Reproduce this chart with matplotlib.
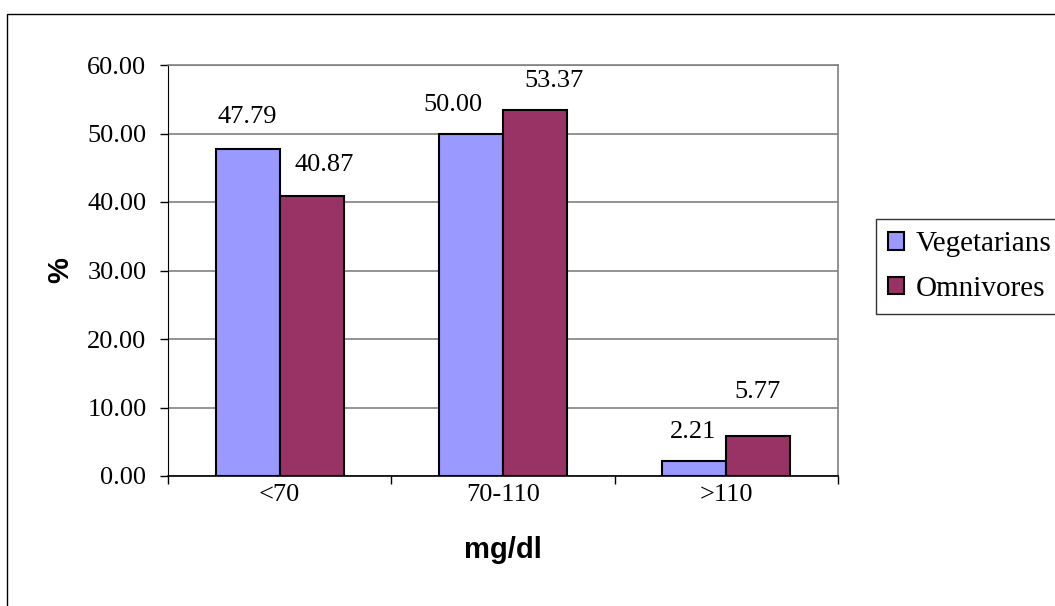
import numpy as np
import matplotlib
matplotlib.use("Agg")
import matplotlib.pyplot as plt
from matplotlib.patches import Rectangle

# veriler
kategoriler = ["<70", "70-110", ">110"]
vegetarians = [47.79, 50.00, 2.21]
omnivores = [40.87, 53.37, 5.77]
seri_adlari = ["Vegetarians", "Omnivores"]
renkler = ["#9999FF", "#993366"]

# etiket kaydırmaları (nokta), Excel çakışmayı önlemek için kaydırmış
veg_ofs = [(0, 23), (-13, 20.5), (-1, 21)]
omn_ofs = [(9, 22.3), (13.7, 21), (-0.7, 31.7)]

serif = ["Liberation Serif", "DejaVu Serif"]
sans = ["Liberation Sans", "DejaVu Sans"]
fs = 19

fig = plt.figure(figsize=(10.55, 6.06), dpi=100)
ax = fig.add_axes([168 / 1055, 1 - 476 / 606, (838 - 168) / 1055, (476 - 65) / 606])

# dış çerçeve
fig.patches.append(Rectangle((7 / 1055, -0.1), 1.2, 1 - 14 / 606 + 0.1,
                             transform=fig.transFigure, fill=False,
                             edgecolor="black", linewidth=1.0))

x = np.arange(len(kategoriler))
w = 0.287
b1 = ax.bar(x - w / 2, vegetarians, w, color=renkler[0], edgecolor="black",
            linewidth=1.5, label=seri_adlari[0], zorder=3)
b2 = ax.bar(x + w / 2, omnivores, w, color=renkler[1], edgecolor="black",
            linewidth=1.5, label=seri_adlari[1], zorder=3)

for bars, vals, ofs in [(b1, vegetarians, veg_ofs), (b2, omnivores, omn_ofs)]:
    for rect, v, o in zip(bars, vals, ofs):
        ax.annotate(f"{v:.2f}", (rect.get_x() + rect.get_width() / 2, v),
                    xytext=o, textcoords="offset points",
                    ha="center", va="center", fontsize=fs, family=serif)

ax.set_xlim(-0.5, 2.5)
ax.set_ylim(0, 60)
ax.set_yticks(np.arange(0, 61, 10))
ax.set_yticklabels([f"{t:.2f}" for t in np.arange(0, 61, 10)], family=serif, fontsize=fs)
ax.set_xticks(x)
ax.set_xticklabels(kategoriler, family=serif, fontsize=fs)
ax.set_xticks([-0.5, 0.5, 1.5, 2.5], minor=True)
ax.tick_params(axis="x", which="major", length=0, pad=6)
ax.tick_params(axis="x", which="minor", length=6, direction="out", width=1)
ax.tick_params(axis="y", length=5.5, direction="out", width=1, pad=10)

ax.yaxis.grid(True, color="#808080", linewidth=1.2, zorder=0)
ax.set_axisbelow(True)
for s in ["top", "right"]:
    ax.spines[s].set_color("#808080")
    ax.spines[s].set_linewidth(1.2)
ax.spines["left"].set_color("black")
ax.spines["bottom"].set_color("black")
ax.spines["bottom"].set_linewidth(1.2)

ax.set_xlabel("mg/dl", family=sans, fontsize=21, fontweight="bold", labelpad=21)
ax.set_ylabel("%", family=sans, fontsize=21, fontweight="bold", labelpad=9)

leg = fig.legend(loc="upper left", bbox_to_anchor=(876 / 1055, 1 - 219 / 606),
                 prop={"family": serif, "size": 21}, frameon=True, fancybox=False,
                 edgecolor="black", handlelength=0.55, handleheight=0.55,
                 handletextpad=0.38, borderpad=0.42, labelspacing=0.64,
                 borderaxespad=0)
leg.get_frame().set_linewidth(1.0)

fig.savefig("out.png", dpi=100)
